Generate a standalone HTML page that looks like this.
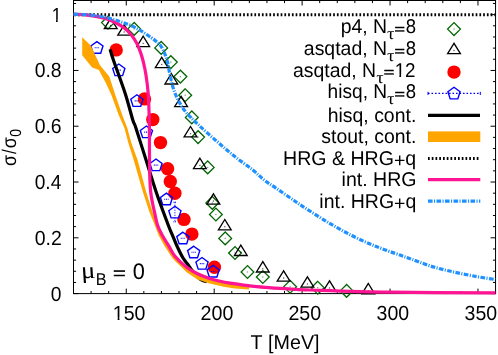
<!DOCTYPE html>
<html><head><meta charset="utf-8"><title>plot</title><style>html,body{margin:0;padding:0;background:#fff}body{width:498px;height:355px;overflow:hidden}</style></head><body>
<svg width="498" height="355" viewBox="0 0 498 355" style="display:block;will-change:transform;font-family:'Liberation Sans',sans-serif">
<rect width="498" height="355" fill="#fff"/>
<rect x="73.5" y="0.5" width="422.05" height="293.1" fill="none" stroke="#000" stroke-width="1"/>
<path d="M73.50,293.6v-2.6M73.50,0.5v2.6M91.09,293.6v-2.6M91.09,0.5v2.6M108.67,293.6v-2.6M108.67,0.5v2.6M126.26,293.6v-5.0M126.26,0.5v5.0M143.84,293.6v-2.6M143.84,0.5v2.6M161.43,293.6v-2.6M161.43,0.5v2.6M179.01,293.6v-2.6M179.01,0.5v2.6M196.60,293.6v-2.6M196.60,0.5v2.6M214.18,293.6v-5.0M214.18,0.5v5.0M231.77,293.6v-2.6M231.77,0.5v2.6M249.35,293.6v-2.6M249.35,0.5v2.6M266.94,293.6v-2.6M266.94,0.5v2.6M284.52,293.6v-2.6M284.52,0.5v2.6M302.11,293.6v-5.0M302.11,0.5v5.0M319.70,293.6v-2.6M319.70,0.5v2.6M337.28,293.6v-2.6M337.28,0.5v2.6M354.87,293.6v-2.6M354.87,0.5v2.6M372.45,293.6v-2.6M372.45,0.5v2.6M390.04,293.6v-5.0M390.04,0.5v5.0M407.62,293.6v-2.6M407.62,0.5v2.6M425.21,293.6v-2.6M425.21,0.5v2.6M442.79,293.6v-2.6M442.79,0.5v2.6M460.38,293.6v-2.6M460.38,0.5v2.6M477.96,293.6v-5.0M477.96,0.5v5.0M495.55,293.6v-2.6M495.55,0.5v2.6M73.5,293.60h5.0M495.55,293.60h-5.0M73.5,282.44h2.6M495.55,282.44h-2.6M73.5,271.28h2.6M495.55,271.28h-2.6M73.5,260.13h2.6M495.55,260.13h-2.6M73.5,248.97h2.6M495.55,248.97h-2.6M73.5,237.81h5.0M495.55,237.81h-5.0M73.5,226.65h2.6M495.55,226.65h-2.6M73.5,215.49h2.6M495.55,215.49h-2.6M73.5,204.34h2.6M495.55,204.34h-2.6M73.5,193.18h2.6M495.55,193.18h-2.6M73.5,182.02h5.0M495.55,182.02h-5.0M73.5,170.86h2.6M495.55,170.86h-2.6M73.5,159.70h2.6M495.55,159.70h-2.6M73.5,148.55h2.6M495.55,148.55h-2.6M73.5,137.39h2.6M495.55,137.39h-2.6M73.5,126.23h5.0M495.55,126.23h-5.0M73.5,115.07h2.6M495.55,115.07h-2.6M73.5,103.91h2.6M495.55,103.91h-2.6M73.5,92.76h2.6M495.55,92.76h-2.6M73.5,81.60h2.6M495.55,81.60h-2.6M73.5,70.44h5.0M495.55,70.44h-5.0M73.5,59.28h2.6M495.55,59.28h-2.6M73.5,48.12h2.6M495.55,48.12h-2.6M73.5,36.97h2.6M495.55,36.97h-2.6M73.5,25.81h2.6M495.55,25.81h-2.6M73.5,14.65h5.0M495.55,14.65h-5.0M73.5,3.49h2.6M495.55,3.49h-2.6" stroke="#000" stroke-width="1" fill="none"/>
<g><path d="M108.0,16.2L101.6,22.6L108.0,29.0L114.4,22.6Z" fill="none" stroke="#006400" stroke-width="1.3"/><rect x="107.4" y="22.0" width="1.2" height="1.2" fill="#006400" opacity="0.6"/><path d="M134.2,22.5L127.8,28.9L134.2,35.3L140.6,28.9Z" fill="none" stroke="#006400" stroke-width="1.3"/><rect x="133.6" y="28.3" width="1.2" height="1.2" fill="#006400" opacity="0.6"/><path d="M161.2,41.5L154.8,47.9L161.2,54.3L167.6,47.9Z" fill="none" stroke="#006400" stroke-width="1.3"/><rect x="160.6" y="47.3" width="1.2" height="1.2" fill="#006400" opacity="0.6"/><path d="M170.8,55.7L164.4,62.1L170.8,68.5L177.2,62.1Z" fill="none" stroke="#006400" stroke-width="1.3"/><rect x="170.2" y="61.5" width="1.2" height="1.2" fill="#006400" opacity="0.6"/><path d="M180.4,70.2L174.0,76.6L180.4,83.0L186.8,76.6Z" fill="none" stroke="#006400" stroke-width="1.3"/><rect x="179.8" y="76.0" width="1.2" height="1.2" fill="#006400" opacity="0.6"/><path d="M185.2,88.8L178.8,95.2L185.2,101.6L191.6,95.2Z" fill="none" stroke="#006400" stroke-width="1.3"/><rect x="184.6" y="94.6" width="1.2" height="1.2" fill="#006400" opacity="0.6"/><path d="M191.8,111.0L185.4,117.4L191.8,123.8L198.2,117.4Z" fill="none" stroke="#006400" stroke-width="1.3"/><rect x="191.2" y="116.8" width="1.2" height="1.2" fill="#006400" opacity="0.6"/><path d="M198.1,130.7L191.7,137.1L198.1,143.5L204.5,137.1Z" fill="none" stroke="#006400" stroke-width="1.3"/><rect x="197.5" y="136.5" width="1.2" height="1.2" fill="#006400" opacity="0.6"/><path d="M207.7,161.0L201.3,167.4L207.7,173.8L214.1,167.4Z" fill="none" stroke="#006400" stroke-width="1.3"/><rect x="207.1" y="166.8" width="1.2" height="1.2" fill="#006400" opacity="0.6"/><path d="M212.3,196.5L205.9,202.9L212.3,209.3L218.7,202.9Z" fill="none" stroke="#006400" stroke-width="1.3"/><rect x="211.7" y="202.3" width="1.2" height="1.2" fill="#006400" opacity="0.6"/><path d="M215.9,208.1L209.5,214.5L215.9,220.9L222.3,214.5Z" fill="none" stroke="#006400" stroke-width="1.3"/><rect x="215.3" y="213.9" width="1.2" height="1.2" fill="#006400" opacity="0.6"/><path d="M225.2,232.0L218.8,238.4L225.2,244.8L231.6,238.4Z" fill="none" stroke="#006400" stroke-width="1.3"/><rect x="224.6" y="237.8" width="1.2" height="1.2" fill="#006400" opacity="0.6"/><path d="M235.0,246.6L228.6,253.0L235.0,259.4L241.4,253.0Z" fill="none" stroke="#006400" stroke-width="1.3"/><rect x="234.4" y="252.4" width="1.2" height="1.2" fill="#006400" opacity="0.6"/><path d="M247.5,265.6L241.1,272.0L247.5,278.4L253.9,272.0Z" fill="none" stroke="#006400" stroke-width="1.3"/><rect x="246.9" y="271.4" width="1.2" height="1.2" fill="#006400" opacity="0.6"/><path d="M262.8,270.6L256.4,277.0L262.8,283.4L269.2,277.0Z" fill="none" stroke="#006400" stroke-width="1.3"/><rect x="262.2" y="276.4" width="1.2" height="1.2" fill="#006400" opacity="0.6"/><path d="M290.1,280.4L283.7,286.8L290.1,293.2L296.5,286.8Z" fill="none" stroke="#006400" stroke-width="1.3"/><rect x="289.5" y="286.2" width="1.2" height="1.2" fill="#006400" opacity="0.6"/><path d="M317.7,281.3L311.3,287.7L317.7,294.1L324.1,287.7Z" fill="none" stroke="#006400" stroke-width="1.3"/><rect x="317.1" y="287.1" width="1.2" height="1.2" fill="#006400" opacity="0.6"/><path d="M346.6,284.5L340.2,290.9L346.6,297.3L353.0,290.9Z" fill="none" stroke="#006400" stroke-width="1.3"/><rect x="346.0" y="290.3" width="1.2" height="1.2" fill="#006400" opacity="0.6"/></g>
<g><path d="M110.7,18.3L104.3,28.7L117.1,28.7Z" fill="none" stroke="#000" stroke-width="1.3"/><rect x="110.1" y="24.9" width="1.2" height="1.2" fill="#000" opacity="0.7"/><path d="M124.2,24.8L117.8,35.2L130.6,35.2Z" fill="none" stroke="#000" stroke-width="1.3"/><rect x="123.6" y="31.4" width="1.2" height="1.2" fill="#000" opacity="0.7"/><path d="M143.2,36.2L136.8,46.6L149.6,46.6Z" fill="none" stroke="#000" stroke-width="1.3"/><rect x="142.6" y="42.8" width="1.2" height="1.2" fill="#000" opacity="0.7"/><path d="M161.7,57.3L155.3,67.7L168.1,67.7Z" fill="none" stroke="#000" stroke-width="1.3"/><rect x="161.1" y="63.9" width="1.2" height="1.2" fill="#000" opacity="0.7"/><path d="M171.3,73.6L164.9,84.0L177.7,84.0Z" fill="none" stroke="#000" stroke-width="1.3"/><rect x="170.7" y="80.2" width="1.2" height="1.2" fill="#000" opacity="0.7"/><path d="M181.1,96.3L174.7,106.7L187.5,106.7Z" fill="none" stroke="#000" stroke-width="1.3"/><rect x="180.5" y="102.9" width="1.2" height="1.2" fill="#000" opacity="0.7"/><path d="M190.5,126.5L184.1,136.9L196.9,136.9Z" fill="none" stroke="#000" stroke-width="1.3"/><rect x="189.9" y="133.1" width="1.2" height="1.2" fill="#000" opacity="0.7"/><path d="M199.9,158.2L193.5,168.6L206.3,168.6Z" fill="none" stroke="#000" stroke-width="1.3"/><rect x="199.3" y="164.8" width="1.2" height="1.2" fill="#000" opacity="0.7"/><path d="M213.4,193.8L207.0,204.2L219.8,204.2Z" fill="none" stroke="#000" stroke-width="1.3"/><rect x="212.8" y="200.4" width="1.2" height="1.2" fill="#000" opacity="0.7"/><path d="M224.8,219.5L218.4,229.9L231.2,229.9Z" fill="none" stroke="#000" stroke-width="1.3"/><rect x="224.2" y="226.1" width="1.2" height="1.2" fill="#000" opacity="0.7"/><path d="M240.8,245.1L234.4,255.5L247.2,255.5Z" fill="none" stroke="#000" stroke-width="1.3"/><rect x="240.2" y="251.7" width="1.2" height="1.2" fill="#000" opacity="0.7"/><path d="M262.8,261.6L256.4,272.0L269.2,272.0Z" fill="none" stroke="#000" stroke-width="1.3"/><rect x="262.2" y="268.2" width="1.2" height="1.2" fill="#000" opacity="0.7"/><path d="M283.6,270.8L277.2,281.2L290.0,281.2Z" fill="none" stroke="#000" stroke-width="1.3"/><rect x="283.0" y="277.4" width="1.2" height="1.2" fill="#000" opacity="0.7"/><path d="M307.4,276.8L301.0,287.2L313.8,287.2Z" fill="none" stroke="#000" stroke-width="1.3"/><rect x="306.8" y="283.4" width="1.2" height="1.2" fill="#000" opacity="0.7"/><path d="M329.5,280.8L323.1,291.2L335.9,291.2Z" fill="none" stroke="#000" stroke-width="1.3"/><rect x="328.9" y="287.4" width="1.2" height="1.2" fill="#000" opacity="0.7"/><path d="M368.3,283.4L361.9,293.8L374.7,293.8Z" fill="none" stroke="#000" stroke-width="1.3"/><rect x="367.7" y="290.0" width="1.2" height="1.2" fill="#000" opacity="0.7"/></g>
<g><circle cx="116.2" cy="49.9" r="6.7" fill="#ff0000"/><circle cx="144.5" cy="98.9" r="6.7" fill="#ff0000"/><circle cx="152.8" cy="119.6" r="6.7" fill="#ff0000"/><circle cx="160.5" cy="142.6" r="6.7" fill="#ff0000"/><circle cx="167.6" cy="168.7" r="6.7" fill="#ff0000"/><circle cx="170.3" cy="181.5" r="6.7" fill="#ff0000"/><circle cx="174.9" cy="193.2" r="6.7" fill="#ff0000"/><circle cx="184.0" cy="219.4" r="6.7" fill="#ff0000"/><circle cx="191.9" cy="234.1" r="6.7" fill="#ff0000"/><circle cx="214.4" cy="267.2" r="6.7" fill="#ff0000"/></g>
<g><polygon points="96.9,41.6 103.0,46.0 100.7,53.2 93.1,53.2 90.8,46.0" fill="none" stroke="#0000ff" stroke-width="1.4"/><line x1="94.7" y1="47.7" x2="99.1" y2="47.7" stroke="#0000ff" stroke-width="1.1" stroke-dasharray="1 0.8"/><polygon points="118.8,64.0 124.9,68.4 122.6,75.6 115.0,75.6 112.7,68.4" fill="none" stroke="#0000ff" stroke-width="1.4"/><line x1="116.6" y1="70.1" x2="121.0" y2="70.1" stroke="#0000ff" stroke-width="1.1" stroke-dasharray="1 0.8"/><polygon points="136.9,94.8 143.0,99.2 140.7,106.4 133.1,106.4 130.8,99.2" fill="none" stroke="#0000ff" stroke-width="1.4"/><line x1="134.7" y1="100.9" x2="139.1" y2="100.9" stroke="#0000ff" stroke-width="1.1" stroke-dasharray="1 0.8"/><polygon points="146.4,126.0 152.5,130.4 150.2,137.6 142.6,137.6 140.3,130.4" fill="none" stroke="#0000ff" stroke-width="1.4"/><line x1="144.2" y1="132.1" x2="148.6" y2="132.1" stroke="#0000ff" stroke-width="1.1" stroke-dasharray="1 0.8"/><polygon points="156.0,159.0 162.1,163.4 159.8,170.6 152.2,170.6 149.9,163.4" fill="none" stroke="#0000ff" stroke-width="1.4"/><line x1="153.8" y1="165.1" x2="158.2" y2="165.1" stroke="#0000ff" stroke-width="1.1" stroke-dasharray="1 0.8"/><polygon points="166.4,193.1 172.5,197.5 170.2,204.7 162.7,204.7 160.4,197.5" fill="none" stroke="#0000ff" stroke-width="1.4"/><line x1="164.2" y1="199.2" x2="168.6" y2="199.2" stroke="#0000ff" stroke-width="1.1" stroke-dasharray="1 0.8"/><polygon points="174.9,206.3 181.0,210.7 178.7,217.9 171.1,217.9 168.8,210.7" fill="none" stroke="#0000ff" stroke-width="1.4"/><path d="M174.9,202.2V221.8" stroke="#0000ff" stroke-width="1.1" stroke-dasharray="1 1.5" fill="none"/><path d="M173.4,202.2h3M173.4,221.8h3" stroke="#0000ff" stroke-width="1" stroke-dasharray="1 0.6" fill="none"/><polygon points="182.9,232.2 189.0,236.6 186.7,243.8 179.1,243.8 176.8,236.6" fill="none" stroke="#0000ff" stroke-width="1.4"/><line x1="180.7" y1="238.3" x2="185.1" y2="238.3" stroke="#0000ff" stroke-width="1.1" stroke-dasharray="1 0.8"/><polygon points="193.7,246.2 199.8,250.6 197.5,257.8 189.9,257.8 187.6,250.6" fill="none" stroke="#0000ff" stroke-width="1.4"/><line x1="191.5" y1="252.3" x2="195.9" y2="252.3" stroke="#0000ff" stroke-width="1.1" stroke-dasharray="1 0.8"/><polygon points="202.0,257.5 208.1,261.9 205.8,269.1 198.2,269.1 195.9,261.9" fill="none" stroke="#0000ff" stroke-width="1.4"/><line x1="199.8" y1="263.6" x2="204.2" y2="263.6" stroke="#0000ff" stroke-width="1.1" stroke-dasharray="1 0.8"/><polygon points="213.1,265.4 219.2,269.8 216.9,277.0 209.3,277.0 207.0,269.8" fill="none" stroke="#0000ff" stroke-width="1.4"/><line x1="210.9" y1="271.5" x2="215.3" y2="271.5" stroke="#0000ff" stroke-width="1.1" stroke-dasharray="1 0.8"/></g>
<path d="M110.10,49.30C110.65,51.08 110.88,52.65 113.40,60.00C115.92,67.35 121.97,83.40 125.20,93.40C128.43,103.40 131.02,114.23 132.80,120.00C134.58,125.77 133.53,120.83 135.90,128.00C138.27,135.17 143.57,152.17 147.00,163.00C150.43,173.83 152.90,182.50 156.50,193.00C160.10,203.50 165.93,218.95 168.60,226.00C171.27,233.05 171.07,231.88 172.50,235.30C173.93,238.72 175.47,242.75 177.20,246.50C178.93,250.25 181.18,254.88 182.90,257.80C184.62,260.72 185.90,261.80 187.50,264.00C189.10,266.20 190.75,268.80 192.50,271.00C194.25,273.20 196.28,275.62 198.00,277.20C199.72,278.78 201.33,279.75 202.80,280.50C204.27,281.25 206.13,281.50 206.80,281.70" fill="none" stroke="#000" stroke-width="3.2" stroke-linejoin="round"/>
<polygon points="82.2,37.2 90.9,45.7 95.7,55.9 99.9,64.9 104.7,71.0 109.3,76.5 115.3,95.0 122.3,115.0 127.3,128.0 131.3,142.8 137.6,160.0 146.2,192.0 152.5,211.7 157.5,225.0 162.1,235.3 168.9,246.5 175.0,256.7 186.3,267.4 197.5,274.2 208.8,278.7 220.1,281.7 230.1,283.6 249.1,286.2 249.1,289.6 235.1,288.5 225.0,287.0 215.0,284.7 208.8,283.2 197.5,279.4 186.3,272.1 179.5,265.3 175.0,260.9 172.0,257.6 164.8,246.5 158.6,235.3 154.3,224.0 149.3,211.7 142.9,192.0 133.7,160.0 128.3,142.8 124.4,128.0 118.7,115.0 111.4,95.0 106.1,83.5 98.9,69.9 92.1,67.6 82.2,55.3" fill="#ffa500"/>
<line x1="74.4" y1="14.65" x2="495.55" y2="14.65" stroke="#000" stroke-width="3" stroke-dasharray="1.7 2.05"/>
<path d="M73.60,14.20C75.67,14.30 82.08,14.40 86.00,14.80C89.92,15.20 93.75,15.93 97.10,16.60C100.45,17.27 103.08,17.82 106.10,18.80C109.12,19.78 112.18,20.97 115.20,22.50C118.22,24.03 121.50,25.93 124.20,28.00C126.90,30.07 129.28,32.30 131.40,34.90C133.52,37.50 135.38,40.68 136.90,43.60C138.42,46.52 139.45,49.43 140.50,52.40C141.55,55.37 142.30,57.72 143.20,61.40C144.10,65.08 145.08,69.32 145.90,74.50C146.72,79.68 147.58,86.48 148.10,92.50C148.62,98.52 148.78,104.68 149.00,110.60C149.22,116.52 149.32,119.77 149.40,128.00C149.48,136.23 149.42,151.33 149.50,160.00C149.58,168.67 149.70,174.67 149.90,180.00C150.10,185.33 150.30,188.33 150.70,192.00C151.10,195.67 151.68,198.72 152.30,202.00C152.92,205.28 153.53,207.87 154.40,211.70C155.27,215.53 156.22,221.12 157.50,225.00C158.78,228.88 160.20,231.48 162.10,235.00C164.00,238.52 166.75,242.57 168.90,246.10C171.05,249.63 172.10,252.73 175.00,256.20C177.90,259.67 182.55,263.98 186.30,266.90C190.05,269.82 193.75,271.82 197.50,273.70C201.25,275.58 205.03,276.93 208.80,278.20C212.57,279.47 216.55,280.47 220.10,281.30C223.65,282.13 225.93,282.53 230.10,283.20C234.27,283.87 239.28,284.60 245.10,285.30C250.92,286.00 257.13,286.77 265.00,287.40C272.87,288.03 284.80,288.67 292.30,289.10C299.80,289.53 293.72,289.48 310.00,290.00C326.28,290.52 359.08,291.72 390.00,292.20C420.92,292.68 477.92,292.78 495.50,292.90" fill="none" stroke="#ff1493" stroke-width="3.2" stroke-linejoin="round"/>
<path d="M73.60,14.20C75.67,14.28 82.08,14.42 86.00,14.70C89.92,14.98 93.75,15.42 97.10,15.90C100.45,16.38 103.08,16.93 106.10,17.60C109.12,18.27 112.18,19.00 115.20,19.90C118.22,20.80 121.18,21.88 124.20,23.00C127.22,24.12 130.28,25.15 133.30,26.60C136.32,28.05 139.30,29.85 142.30,31.70C145.30,33.55 149.02,36.12 151.30,37.70C153.58,39.28 154.47,39.92 156.00,41.20C157.53,42.48 159.23,43.77 160.50,45.40C161.77,47.03 162.63,48.93 163.60,51.00C164.57,53.07 165.57,55.63 166.30,57.80C167.03,59.97 167.40,61.22 168.00,64.00C168.60,66.78 168.98,70.35 169.90,74.50C170.82,78.65 172.00,84.38 173.50,88.90C175.00,93.42 176.80,97.68 178.90,101.60C181.00,105.52 182.90,108.58 186.10,112.40C189.30,116.22 193.10,119.78 198.10,124.50C203.10,129.22 210.08,135.43 216.10,140.70C222.12,145.97 228.17,151.28 234.20,156.10C240.23,160.92 247.30,165.62 252.30,169.60C257.30,173.58 260.27,176.92 264.20,180.00C268.13,183.08 271.60,185.15 275.90,188.10C280.20,191.05 285.30,194.50 290.00,197.70C294.70,200.90 297.73,203.17 304.10,207.30C310.47,211.43 320.17,217.75 328.20,222.50C336.23,227.25 344.27,231.78 352.30,235.80C360.33,239.82 368.45,243.38 376.40,246.60C384.35,249.82 394.12,252.98 400.00,255.10C405.88,257.22 406.13,257.33 411.70,259.30C417.27,261.27 426.17,264.73 433.40,266.90C440.63,269.07 447.87,270.68 455.10,272.30C462.33,273.92 470.12,275.40 476.80,276.60C483.48,277.80 492.13,279.02 495.20,279.50" fill="none" stroke="#1e90ff" stroke-width="3.2" stroke-linejoin="round" stroke-dasharray="4.6 1.4 1.1 1.4"/>
<path d="M454.0,22.6L447.6,29.1L454.0,35.5L460.4,29.1Z" fill="none" stroke="#006400" stroke-width="1.3"/><rect x="453.4" y="28.4" width="1.2" height="1.2" fill="#006400" opacity="0.6"/>
<path d="M454.0,43.3L447.6,53.7L460.4,53.7Z" fill="none" stroke="#000" stroke-width="1.3"/><rect x="453.4" y="49.9" width="1.2" height="1.2" fill="#000" opacity="0.7"/>
<circle cx="454.0" cy="72.1" r="6.7" fill="#ff0000"/>
<path d="M428.0,93.4H480.3" stroke="#0000ff" stroke-width="1.2" stroke-dasharray="1.6 1.9" fill="none"/>
<path d="M428.0,91.8v3.2M480.3,91.8v3.2" stroke="#0000ff" stroke-width="1" fill="none"/>
<polygon points="454.0,87.3 460.1,91.7 457.8,98.9 450.2,98.9 447.9,91.7" fill="none" stroke="#0000ff" stroke-width="1.4"/>
<line x1="428.0" y1="115.3" x2="480.0" y2="115.3" stroke="#000" stroke-width="3.2"/>
<rect x="428.0" y="131.4" width="52.30000000000001" height="10.6" fill="#ffa500"/>
<line x1="428.0" y1="158.4" x2="480.3" y2="158.4" stroke="#000" stroke-width="3" stroke-dasharray="1.7 2.05"/>
<line x1="428.0" y1="179.7" x2="480.3" y2="179.7" stroke="#ff1493" stroke-width="3.2"/>
<line x1="428.0" y1="201.1" x2="480.3" y2="201.1" stroke="#1e90ff" stroke-width="3.2" stroke-dasharray="4.6 1.4 1.1 1.4"/>
<g style="font-kerning:none" text-rendering="geometricPrecision">
<text transform="translate(341.95,33.20) scale(0.9763,1)" x="-1.28" y="0" font-size="19.9">p4, N</text><text transform="translate(406.55,33.20) scale(0.9317,1)" x="-0.86" y="0" font-size="19.9">8</text><text transform="translate(387.90,39.00) skewX(9) scale(1.1,1)" x="0" y="0" font-size="17" font-style="italic" font-family="'Liberation Serif',serif">τ</text><text transform="translate(395.25,33.65) scale(0.8999,0.717)" x="-0.97" y="0" font-size="19.9" stroke="#000" stroke-width="0.65">=</text>
<text transform="translate(304.65,55.20) scale(0.9781,1)" x="-0.85" y="0" font-size="19.9">asqtad, N</text><text transform="translate(406.55,55.20) scale(0.9317,1)" x="-0.86" y="0" font-size="19.9">8</text><text transform="translate(387.90,61.00) skewX(9) scale(1.1,1)" x="0" y="0" font-size="17" font-style="italic" font-family="'Liberation Serif',serif">τ</text><text transform="translate(395.25,55.65) scale(0.8999,0.717)" x="-0.97" y="0" font-size="19.9" stroke="#000" stroke-width="0.65">=</text>
<text transform="translate(293.85,76.80) scale(0.9763,1)" x="-0.85" y="0" font-size="19.9">asqtad, N</text><text transform="translate(396.45,76.80) scale(0.9469,1)" x="-1.91" y="0" font-size="19.9">12</text><rect x="395.56" y="74.61" width="3.77" height="2.99" fill="#fff"/><rect x="401.09" y="74.61" width="3.81" height="2.99" fill="#fff"/><text transform="translate(377.30,82.60) skewX(9) scale(1.1,1)" x="0" y="0" font-size="17" font-style="italic" font-family="'Liberation Serif',serif">τ</text><text transform="translate(384.65,77.25) scale(0.9050,0.717)" x="-0.97" y="0" font-size="19.9" stroke="#000" stroke-width="0.65">=</text>
<text transform="translate(328.85,98.30) scale(0.9621,1)" x="-1.38" y="0" font-size="19.9">hisq, N</text><text transform="translate(406.55,98.30) scale(0.9317,1)" x="-0.86" y="0" font-size="19.9">8</text><text transform="translate(387.90,104.10) skewX(9) scale(1.1,1)" x="0" y="0" font-size="17" font-style="italic" font-family="'Liberation Serif',serif">τ</text><text transform="translate(395.25,98.75) scale(0.8999,0.717)" x="-0.97" y="0" font-size="19.9" stroke="#000" stroke-width="0.65">=</text>
<text transform="translate(329.05,121.75) scale(0.9770,1)" x="-1.38" y="0" font-size="19.9">hisq, cont.</text>
<text transform="translate(321.85,143.25) scale(0.9761,1)" x="-0.55" y="0" font-size="19.9">stout, cont.</text>
<text transform="translate(284.65,164.75) scale(0.9837,1)" x="-1.63" y="0" font-size="19.9">HRG &amp; HRG<tspan dy="1.8">+</tspan><tspan dy="-1.8">q</tspan></text>
<text transform="translate(342.85,186.30) scale(0.9826,1)" x="-1.33" y="0" font-size="19.9">int. HRG</text>
<text transform="translate(320.65,207.80) scale(0.9794,1)" x="-1.33" y="0" font-size="19.9">int. HRG<tspan dy="1.8">+</tspan><tspan dy="-1.8">q</tspan></text>
<text transform="translate(114.66,319.60) scale(0.9529,1)" x="-1.97" y="0" font-size="20.5">150</text><rect x="113.73" y="317.37" width="3.91" height="3.03" fill="#fff"/><rect x="119.47" y="317.37" width="3.95" height="3.03" fill="#fff"/>
<text transform="translate(201.48,319.60) scale(0.9592,1)" x="-1.03" y="0" font-size="20.5">200</text>
<text transform="translate(289.41,319.60) scale(0.9592,1)" x="-1.03" y="0" font-size="20.5">250</text>
<text transform="translate(377.34,319.60) scale(0.9518,1)" x="-0.78" y="0" font-size="20.5">300</text>
<text transform="translate(465.26,319.60) scale(0.9518,1)" x="-0.78" y="0" font-size="20.5">350</text>
<text transform="translate(51.55,300.50) scale(0.9388,1)" x="-0.80" y="0" font-size="20.5">0</text>
<text transform="translate(35.45,244.71) scale(0.9488,1)" x="-0.80" y="0" font-size="20.5">0.2</text>
<text transform="translate(35.45,188.92) scale(0.9337,1)" x="-0.80" y="0" font-size="20.5">0.4</text>
<text transform="translate(35.45,133.13) scale(0.9442,1)" x="-0.80" y="0" font-size="20.5">0.6</text>
<text transform="translate(35.45,77.34) scale(0.9438,1)" x="-0.80" y="0" font-size="20.5">0.8</text>
<text transform="translate(53.35,21.55) scale(0.8609,1)" x="-1.97" y="0" font-size="20.5">1</text><rect x="52.51" y="19.32" width="3.53" height="3.03" fill="#fff"/><rect x="57.70" y="19.32" width="3.57" height="3.03" fill="#fff"/>
<text transform="translate(250.95,349.00) scale(0.9912,1)" x="-0.45" y="0" font-size="19.9">T [MeV]</text>
<text transform="translate(82.4,278.0) skewX(15) scale(1.16,1)" x="0" y="0" font-size="23.6" font-style="italic" font-family="'Liberation Serif',serif">μ</text>
<text transform="translate(97.15,284.50) scale(0.9505,1)" x="-1.39" y="0" font-size="17">B</text>
<text transform="translate(114.15,278.51) scale(0.9697,0.764)" x="-1.10" y="0" font-size="22.5" stroke="#000" stroke-width="0.6">=</text>
<text transform="translate(133.55,278.60) scale(0.9669,1)" x="-0.88" y="0" font-size="22.5">0</text>
<text transform="translate(16.00,165.25) rotate(-90) scale(0.8883,1)" x="-0.84" y="0" font-size="19.9">σ</text>
<text transform="translate(16.00,153.95) rotate(-90) scale(0.8682,1)" x="-0.00" y="0" font-size="19.9">/</text>
<text transform="translate(16.00,147.45) rotate(-90) scale(0.8972,1)" x="-0.84" y="0" font-size="19.9">σ</text>
<text transform="translate(21.40,136.25) rotate(-90) scale(0.8891,1)" x="-0.62" y="0" font-size="16">0</text>
</g>
</svg>
</body></html>
